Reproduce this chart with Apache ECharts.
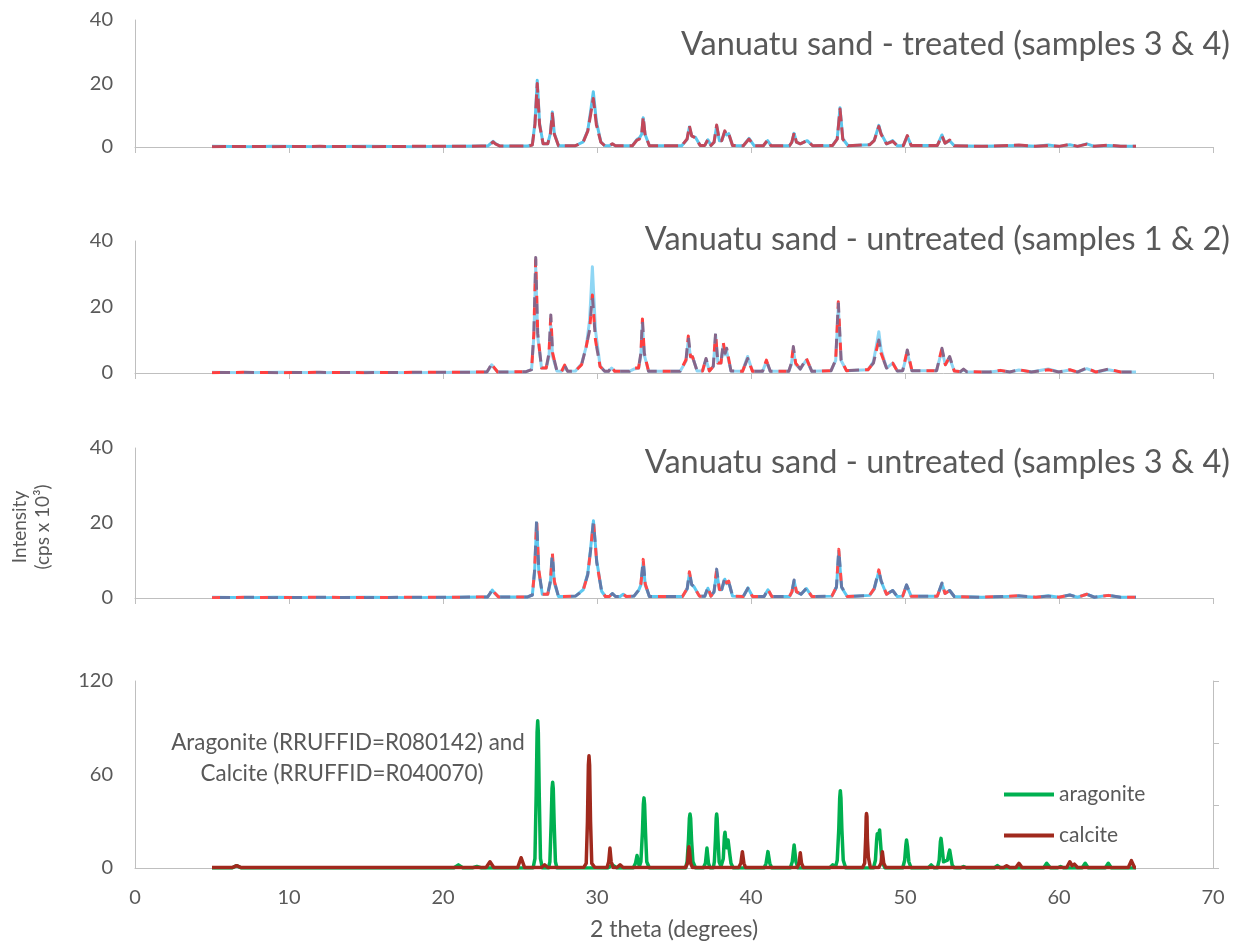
<!DOCTYPE html>
<html>
<head>
<meta charset="utf-8">
<script src="https://cdn.jsdelivr.net/npm/echarts@6/dist/echarts.min.js"></script>
<style>
  html, body { margin: 0; padding: 0; background: #fff; }
  #chart { width: 1252px; height: 945px; }
</style>
</head>
<body>
<div id="chart"></div>
<script>
// Panel headings, top to bottom
const panelTitles = [
  'Vanuatu sand - treated (samples 3 & 4)',
  'Vanuatu sand - untreated (samples 1 & 2)',
  'Vanuatu sand - untreated (samples 3 & 4)'
];
const referenceNote = ['Aragonite (RRUFFID=R080142) and', 'Calcite (RRUFFID=R040070)'];
const yTicksSample = [0, 20, 40];
const yTicksReference = [0, 60, 120];

// Diffractograms: [2 theta (degrees), intensity (cps x 10^3)]
const treatedS3 = [
  [5.0,0.2],[7.5,0.1],[9.0,0.2],[12.0,0.1],[15.0,0.2],[18.0,0.1],[21.0,0.2],[22.5,0.3],
  [22.9,0.3],[23.1,1.1],[23.25,1.8],[23.4,1.1],[23.7,0.3],
  [25.5,0.3],[25.8,0.7],[25.97,7.5],[26.12,21.0],[26.27,7.5],[26.5,1.0],
  [26.8,1.0],[26.97,4.2],[27.1,11.0],[27.23,4.2],[27.5,0.4],
  [28.6,0.4],[29.1,1.6],[29.4,5.2],[29.58,11],[29.76,17.4],[29.96,8],[30.25,1.6],[30.5,0.4],
  [30.8,0.4],[31.0,0.9],[31.2,0.4],
  [32.3,0.4],[32.6,2.4],[32.75,2.8],[32.9,4],[33.0,9.2],[33.12,4],[33.4,0.4],
  [35.5,0.4],[35.85,2.4],[36.0,6.3],[36.15,3.5],[36.4,3.0],[36.7,0.5],
  [37.0,0.5],[37.2,2.3],[37.4,0.5],
  [37.6,1.5],[37.77,6.5],[37.95,2.0],[38.1,2.0],[38.3,4.8],[38.42,3.8],[38.55,4.2],[38.8,0.5],
  [39.5,0.4],[39.87,2.7],[40.2,0.4],
  [40.8,0.4],[41.08,2.0],[41.3,0.4],
  [42.5,0.4],[42.65,1.5],[42.8,4.3],[42.95,1.5],[43.2,1.0],[43.65,2.0],[44.0,0.4],
  [45.3,0.5],[45.6,2.6],[45.78,12.4],[45.96,2.6],[46.3,0.4],
  [47.7,0.7],[48.0,2.1],[48.2,5.2],[48.3,6.8],[48.45,4.2],[48.8,1.0],[49.2,2.0],[49.5,0.4],
  [49.9,0.5],[50.15,3.4],[50.4,0.5],
  [52.1,0.5],[52.4,3.8],[52.6,1.2],[52.9,2.0],[53.2,0.4],
  [55.0,0.2],[57.4,0.5],[58.5,0.2],[59.3,0.6],[60.0,0.2],[60.7,0.7],[61.2,0.2],[61.8,1.0],[62.3,0.2],[63.2,0.5],[64.0,0.2],[65.0,0.2]
];
const treatedS4 = [
  [5.0,0.1],[7.5,0.2],[9.0,0.1],[12.0,0.2],[15.0,0.1],[18.0,0.2],[21.0,0.2],[22.5,0.3],
  [22.9,0.3],[23.1,1.0],[23.25,1.6],[23.4,1.0],[23.7,0.3],
  [25.5,0.3],[25.8,0.6],[25.97,7],[26.12,20.0],[26.27,7],[26.5,1.0],
  [26.8,1.0],[26.97,4],[27.1,10.5],[27.23,4],[27.5,0.4],
  [28.6,0.4],[29.1,1.5],[29.4,5],[29.58,10],[29.76,15.3],[29.96,7],[30.25,1.5],[30.5,0.4],
  [30.8,0.4],[31.0,1.0],[31.2,0.4],
  [32.3,0.4],[32.6,2.2],[32.75,2.5],[32.9,4],[33.0,9.5],[33.12,4],[33.4,0.4],
  [35.5,0.4],[35.85,2.5],[36.0,6.7],[36.15,3.5],[36.4,2.8],[36.7,0.5],
  [37.0,0.5],[37.2,2.4],[37.4,0.5],
  [37.6,1.5],[37.77,6.9],[37.95,2.0],[38.1,2.0],[38.3,5.1],[38.42,3.8],[38.55,4.2],[38.8,0.5],
  [39.5,0.4],[39.87,2.5],[40.2,0.4],
  [40.8,0.4],[41.08,2.2],[41.3,0.4],
  [42.5,0.4],[42.65,1.5],[42.8,4.5],[42.95,1.5],[43.2,1.0],[43.65,2.0],[44.0,0.4],
  [45.3,0.5],[45.6,2.5],[45.78,12.0],[45.96,2.5],[46.3,0.4],
  [47.7,0.7],[48.0,2.0],[48.2,5.0],[48.3,6.5],[48.45,4.0],[48.8,1.0],[49.2,1.8],[49.5,0.4],
  [49.9,0.5],[50.15,3.6],[50.4,0.5],
  [52.1,0.5],[52.4,3.5],[52.6,1.2],[52.9,2.2],[53.2,0.4],
  [55.0,0.2],[57.4,0.6],[58.5,0.2],[59.3,0.5],[60.0,0.2],[60.7,0.8],[61.2,0.2],[61.8,0.9],[62.3,0.2],[63.2,0.6],[64.0,0.2],[65.0,0.2]
];
const untreatedS1 = [
  [5.0,0.2],[7.0,0.1],[9.5,0.2],[12.0,0.1],[15.0,0.2],[18.0,0.1],[21.0,0.2],[22.5,0.3],
  [22.85,0.3],[23.05,1.6],[23.16,2.5],[23.3,1.6],[23.55,0.3],
  [25.4,0.4],[25.75,1.0],[25.9,11],[26.02,32.0],[26.15,11],[26.4,1.5],
  [26.7,1.5],[26.88,5],[27.0,14.5],[27.12,5],[27.4,0.6],
  [27.7,0.5],[27.9,1.5],[28.1,0.5],
  [28.6,0.6],[29.0,2.8],[29.3,8.0],[29.52,16],[29.7,32.2],[29.9,13],[30.2,2.2],[30.5,0.5],
  [30.75,0.5],[30.95,1.5],[31.15,0.5],
  [32.1,0.5],[32.4,1.2],[32.7,1.4],[32.85,5.5],[32.95,15.0],[33.07,5.5],[33.35,0.5],
  [35.4,0.5],[35.78,3.6],[35.93,10.0],[36.07,4.8],[36.2,5.0],[36.5,0.6],
  [36.85,0.6],[37.08,4.0],[37.3,0.6],
  [37.55,2],[37.7,11.5],[37.85,3],[38.05,3],[38.2,8.5],[38.32,5.5],[38.42,6.5],[38.7,0.6],
  [39.45,0.5],[39.78,5.0],[40.1,0.5],
  [40.75,0.5],[41.0,3.5],[41.25,0.5],
  [42.45,0.5],[42.62,2.6],[42.75,7.0],[42.9,2.6],[43.2,1.2],[43.6,4.0],[43.95,0.5],
  [45.2,0.7],[45.5,3.8],[45.67,20.0],[45.85,3.8],[46.2,0.7],
  [47.6,1.0],[47.95,3.5],[48.15,8.5],[48.3,12.5],[48.45,7],[48.8,1.5],[49.2,3.0],[49.5,0.6],
  [49.85,0.7],[50.15,6.0],[50.45,0.7],
  [52.05,0.7],[52.4,7.0],[52.62,2.5],[52.9,4.5],[53.2,0.6],
  [53.6,0.4],[53.8,1.0],[54.0,0.4],
  [55.5,0.3],[56.2,0.7],[56.8,0.3],[57.4,0.9],[58.2,0.3],[59.3,1.2],[60.0,0.3],[60.7,0.9],[61.2,0.3],[61.8,1.3],[62.4,0.3],[63.2,1.0],[64.0,0.3],[65.0,0.3]
];
const untreatedS2 = [
  [5.0,0.1],[7.0,0.2],[9.5,0.1],[12.0,0.2],[15.0,0.1],[18.0,0.2],[21.0,0.2],[22.5,0.3],
  [22.85,0.3],[23.05,1.8],[23.16,2.9],[23.3,1.8],[23.55,0.3],
  [25.4,0.4],[25.75,1.0],[25.9,12],[26.02,35.0],[26.15,12],[26.4,1.5],
  [26.7,1.5],[26.88,6],[27.0,17.6],[27.12,6],[27.4,0.6],
  [27.7,0.5],[27.9,2.4],[28.1,0.5],
  [28.6,0.6],[29.0,2.5],[29.3,8.0],[29.52,13],[29.7,23.6],[29.9,10],[30.2,2.0],[30.5,0.5],
  [30.75,0.5],[30.95,1.9],[31.15,0.5],
  [32.1,0.5],[32.4,1.5],[32.7,1.5],[32.85,6],[32.95,16.4],[33.07,6],[33.35,0.5],
  [35.4,0.5],[35.78,4],[35.93,11.2],[36.07,5],[36.2,4.9],[36.5,0.6],
  [36.85,0.6],[37.08,4.4],[37.3,0.6],
  [37.55,2],[37.7,12.0],[37.85,3],[38.05,3],[38.2,9.2],[38.32,6],[38.42,7.5],[38.7,0.6],
  [39.45,0.5],[39.78,4.4],[40.1,0.5],
  [40.75,0.5],[41.0,3.9],[41.25,0.5],
  [42.45,0.5],[42.62,3],[42.75,8.0],[42.9,3],[43.2,1.2],[43.6,4.4],[43.95,0.5],
  [45.2,0.7],[45.5,4],[45.67,21.6],[45.85,4],[46.2,0.7],
  [47.6,1.0],[47.95,3],[48.15,7],[48.3,10.0],[48.45,6],[48.8,1.5],[49.2,3.0],[49.5,0.6],
  [49.85,0.7],[50.15,7.0],[50.45,0.7],
  [52.05,0.7],[52.4,7.5],[52.62,2.5],[52.9,5.0],[53.2,0.6],
  [53.6,0.4],[53.8,1.2],[54.0,0.4],
  [55.5,0.3],[56.2,0.8],[56.8,0.3],[57.4,1.0],[58.2,0.3],[59.3,1.0],[60.0,0.3],[60.7,1.0],[61.2,0.3],[61.8,1.5],[62.4,0.3],[63.2,1.2],[64.0,0.3],[65.0,0.3]
];
const untreatedS3 = [
  [5.0,0.2],[7.5,0.1],[9.0,0.2],[12.0,0.1],[15.0,0.2],[18.0,0.1],[21.0,0.2],[22.5,0.3],
  [22.9,0.3],[23.08,1.3],[23.2,2.1],[23.35,1.3],[23.6,0.3],
  [25.5,0.3],[25.8,0.8],[25.95,7],[26.08,20.0],[26.22,7],[26.45,1.0],
  [26.8,1.0],[26.97,4],[27.1,11.0],[27.23,4],[27.5,0.4],
  [28.6,0.5],[29.1,2.2],[29.4,6.5],[29.58,13],[29.77,20.6],[29.98,10],[30.3,1.8],[30.55,0.4],
  [30.8,0.4],[31.0,1.2],[31.2,0.4],
  [31.5,0.4],[31.7,1.0],[31.9,0.4],
  [32.4,0.5],[32.7,2.0],[32.85,3.5],[33.0,9.5],[33.13,3.5],[33.4,0.4],
  [35.55,0.4],[35.86,2.4],[36.0,6.5],[36.15,3.5],[36.3,3.0],[36.65,0.5],
  [37.0,0.5],[37.2,2.6],[37.4,0.5],
  [37.6,1.6],[37.77,7.0],[37.95,2.2],[38.1,2.2],[38.3,5.0],[38.42,3.8],[38.55,4.3],[38.8,0.5],
  [39.5,0.4],[39.8,2.7],[40.1,0.4],
  [40.85,0.4],[41.1,2.2],[41.35,0.4],
  [42.5,0.4],[42.66,1.6],[42.8,4.6],[42.95,1.6],[43.25,1.0],[43.6,2.5],[43.95,0.4],
  [45.25,0.5],[45.55,2.8],[45.7,12.5],[45.88,2.8],[46.25,0.4],
  [47.7,0.7],[48.0,2.4],[48.2,5.5],[48.3,7.0],[48.45,4.4],[48.8,1.0],[49.2,2.0],[49.5,0.4],
  [49.85,0.5],[50.1,3.4],[50.4,0.5],
  [52.1,0.5],[52.4,3.8],[52.6,1.2],[52.9,2.0],[53.2,0.4],
  [55.0,0.2],[57.4,0.5],[58.5,0.2],[59.3,0.6],[60.0,0.2],[60.7,0.8],[61.2,0.2],[61.8,1.0],[62.3,0.2],[63.2,0.7],[64.0,0.2],[65.0,0.2]
];
const untreatedS4 = [
  [5.0,0.1],[7.5,0.2],[9.0,0.1],[12.0,0.2],[15.0,0.1],[18.0,0.2],[21.0,0.2],[22.5,0.3],
  [22.9,0.3],[23.08,1.4],[23.2,2.3],[23.35,1.4],[23.6,0.3],
  [25.5,0.3],[25.8,0.8],[25.95,7.5],[26.08,21.0],[26.22,7.5],[26.45,1.0],
  [26.8,1.0],[26.97,4.5],[27.1,12.1],[27.23,4.5],[27.5,0.4],
  [28.6,0.5],[29.1,2.0],[29.4,6.2],[29.58,12.5],[29.77,20.6],[29.98,9.5],[30.3,1.8],[30.55,0.4],
  [30.8,0.4],[31.0,1.2],[31.2,0.4],
  [31.5,0.4],[31.7,1.0],[31.9,0.4],
  [32.4,0.5],[32.7,2.1],[32.85,3.8],[33.0,10.3],[33.13,3.8],[33.4,0.4],
  [35.55,0.4],[35.86,2.6],[36.0,7.0],[36.15,3.6],[36.3,3.0],[36.65,0.5],
  [37.0,0.5],[37.2,2.8],[37.4,0.5],
  [37.6,1.7],[37.77,7.7],[37.95,2.3],[38.1,2.3],[38.3,5.5],[38.42,4.0],[38.55,4.5],[38.8,0.5],
  [39.5,0.4],[39.8,2.6],[40.1,0.4],
  [40.85,0.4],[41.1,2.3],[41.35,0.4],
  [42.5,0.4],[42.66,1.7],[42.8,4.8],[42.95,1.7],[43.25,1.0],[43.6,2.6],[43.95,0.4],
  [45.25,0.5],[45.55,3.0],[45.7,13.0],[45.88,3.0],[46.25,0.4],
  [47.7,0.7],[48.0,2.5],[48.2,5.8],[48.3,7.5],[48.45,4.6],[48.8,1.0],[49.2,2.0],[49.5,0.4],
  [49.85,0.5],[50.1,3.5],[50.4,0.5],
  [52.1,0.5],[52.4,4.0],[52.6,1.2],[52.9,2.0],[53.2,0.4],
  [55.0,0.2],[57.4,0.6],[58.5,0.2],[59.3,0.5],[60.0,0.2],[60.7,0.8],[61.2,0.2],[61.8,1.0],[62.3,0.2],[63.2,0.7],[64.0,0.2],[65.0,0.2]
];

// RRUFF reference patterns
const aragonite = [
  [5.0,0],[6.3,0],[6.6,1.5],[6.9,0],
  [20.7,0],[21.0,2],[21.3,0],
  [21.9,0],[22.2,1],[22.5,0],
  [25.85,0],[25.97,6],[26.05,47],[26.11,87],[26.15,94.5],[26.19,87],[26.25,47],[26.33,6],[26.45,0],
  [26.85,0],[26.94,4],[27.02,28],[27.08,51],[27.12,55],[27.16,51],[27.22,28],[27.3,4],[27.4,0],
  [30.7,0],[31.0,2],[31.3,0],
  [32.35,0],[32.5,3],[32.6,8],[32.7,3],[32.75,1],[32.85,4],[32.95,23],[33.01,41],[33.05,45],[33.09,41],[33.15,23],[33.23,4],[33.4,0],
  [35.75,0],[35.85,4],[35.94,18],[36.0,32],[36.04,34.7],[36.08,32],[36.14,18],[36.23,4],[36.4,0],
  [36.9,0],[37.04,3],[37.14,12.8],[37.24,3],[37.35,0],
  [37.55,0],[37.62,4],[37.69,18],[37.74,32],[37.77,34.7],[37.8,32],[37.86,18],[37.93,4],[38.05,1],
  [38.2,6],[38.27,20],[38.31,23],[38.37,17],[38.43,13],[38.51,18],[38.55,19],[38.62,9],[38.7,3],[38.85,0],
  [40.85,0],[40.98,3],[41.1,10.5],[41.22,3],[41.35,0],
  [42.55,0],[42.68,4],[42.8,14.8],[42.92,4],[43.05,0],
  [45.1,0],[45.3,2],[45.5,1],[45.6,5],[45.7,25],[45.76,45],[45.8,49.6],[45.84,45],[45.9,25],[45.99,5],[46.15,0],
  [47.95,0],[48.08,5],[48.16,18],[48.2,22],[48.27,19],[48.35,24.4],[48.42,15],[48.5,4],[48.7,0],
  [49.85,0],[49.98,5],[50.06,15],[50.1,18],[50.16,14],[50.25,4],[50.4,0],
  [51.5,0],[51.7,2],[51.9,0],
  [52.1,0],[52.22,5],[52.3,17],[52.34,19],[52.4,14],[52.5,4],[52.62,3],[52.76,5],[52.86,10],[52.9,11.5],[52.96,8],[53.06,2],[53.2,0],
  [53.6,0],[53.8,1],[54.0,0],
  [55.8,0],[56.0,1.5],[56.2,0],
  [59.0,0],[59.2,3],[59.45,0],
  [59.9,0],[60.1,1],[60.3,0],
  [61.5,0],[61.7,3],[61.9,0],
  [63.0,0],[63.2,3],[63.4,0],
  [65.0,0]
];
const calcite = [
  [5.0,0.3],[6.3,0.3],[6.6,1.5],[6.9,0.3],
  [10.0,0.3],[15.0,0.3],[20.0,0.3],
  [22.8,0.3],[23.05,4],[23.3,0.3],
  [24.85,0.3],[25.07,6.6],[25.3,0.3],
  [26.4,0.3],[26.6,2],[26.8,0.3],
  [29.15,0.5],[29.3,3],[29.38,30],[29.44,66],[29.48,72],[29.52,66],[29.58,30],[29.66,3],[29.85,0.5],
  [30.65,0.3],[30.76,4],[30.84,12.8],[30.92,4],[31.05,0.3],
  [31.3,0.3],[31.5,2],[31.7,0.3],
  [35.75,0.3],[35.88,3],[35.94,11],[35.97,13.7],[36.01,11],[36.08,3],[36.2,0.3],
  [39.2,0.3],[39.34,3],[39.44,10.5],[39.54,3],[39.65,0.3],
  [43.0,0.3],[43.12,3],[43.2,9.8],[43.28,3],[43.4,0.3],
  [47.25,0.3],[47.38,3],[47.45,20],[47.48,33],[47.5,35],[47.53,33],[47.56,18],[47.62,7],[47.75,0.3],
  [48.3,0.3],[48.44,3],[48.53,10.5],[48.62,3],[48.75,0.3],
  [56.4,0.3],[56.6,1.5],[56.8,0.3],
  [57.2,0.3],[57.4,3],[57.6,0.3],
  [60.5,0.3],[60.7,4],[60.85,1.5],[61.0,2.5],[61.2,0.3],
  [64.5,0.3],[64.7,4.7],[64.9,0.3],[65.0,0.3]
];

const TEXT = '#595959';
const AXIS = '#BFBFBF';
const FONT = 'Lato, "Open Sans", sans-serif';

const grids = [
  { left: 135, right: 39, top: 20,  height: 127 },
  { left: 135, right: 39, top: 241, height: 132 },
  { left: 135, right: 39, top: 448, height: 150 },
  { left: 135, right: 39, top: 681, height: 187 }
].map(g => Object.assign({ outerBoundsMode: 'none', containLabel: false }, g));

const xAxes = [0, 1, 2, 3].map(i => ({
  type: 'value', gridIndex: i, min: 0, max: 70, interval: 10,
  axisLine: { show: true, onZero: false, lineStyle: { color: AXIS, width: 1 } },
  axisTick: { show: i < 3, length: 6, lineStyle: { color: AXIS } },
  axisLabel: { show: i === 3, color: TEXT, fontSize: 20, fontFamily: FONT, margin: 20 },
  splitLine: { show: false },
  name: i === 3 ? '2 theta (degrees)' : '',
  nameLocation: 'middle', nameGap: 50,
  nameTextStyle: { color: TEXT, fontSize: 23, fontFamily: FONT }
}));

const sampleY = i => ({
  type: 'value', gridIndex: i, min: yTicksSample[0], max: yTicksSample[2], interval: yTicksSample[1] - yTicksSample[0],
  axisLine: { show: true, lineStyle: { color: AXIS } },
  axisTick: { show: false },
  axisLabel: { color: TEXT, fontSize: 20, fontFamily: FONT, margin: 22 },
  splitLine: { show: false }
});
const yAxes = [
  sampleY(0), sampleY(1), sampleY(2),
  {
    type: 'value', gridIndex: 3, min: yTicksReference[0], max: yTicksReference[2], interval: yTicksReference[1],
    axisLine: { show: true, lineStyle: { color: AXIS } },
    axisTick: { show: false },
    axisLabel: { color: TEXT, fontSize: 20, fontFamily: FONT, margin: 22 },
    splitLine: { show: false }
  },
  {
    type: 'value', gridIndex: 3, position: 'right', min: 0, max: 120, interval: 40,
    axisLine: { show: true, lineStyle: { color: AXIS } },
    axisTick: { show: true, length: 6, lineStyle: { color: AXIS } },
    axisLabel: { show: false },
    splitLine: { show: false }
  }
];

function trace(name, data, axis, color, width, dash, offset, z) {
  return {
    type: 'line', name, data, xAxisIndex: axis, yAxisIndex: axis,
    showSymbol: false, symbol: 'none', silent: true, z: z,
    lineStyle: { color, width, type: dash || 'solid', dashOffset: offset || 0, cap: 'butt', join: 'round' },
    itemStyle: { color }
  };
}

const series = [
  // treated 3 & 4
  trace('treated sample 3', treatedS3, 0, '#5CC6EC', 3, null, 0, 2),
  trace('treated sample 4', treatedS4, 0, '#C2485A', 3, [14, 6], 0, 3),
  // untreated 1 & 2
  trace('untreated sample 1', untreatedS1, 1, '#8FD6F4', 3, null, 0, 2),
  trace('untreated sample 2', untreatedS2, 1, '#FF3F3F', 3, [8, 16], 0, 3),
  trace('untreated sample 2 ', untreatedS2, 1, '#86668A', 3, [10, 14], 16, 4),
  // untreated 3 & 4
  trace('untreated sample 3', untreatedS3, 2, '#5CC8F0', 3, null, 0, 2),
  trace('untreated sample 4', untreatedS4, 2, '#FF4B4B', 3, [8, 16], 0, 3),
  trace('untreated sample 4 ', untreatedS4, 2, '#6479A8', 3, [10, 14], 16, 4),
  // references
  trace('aragonite', aragonite, 3, '#00B050', 3.5, null, 0, 2),
  trace('calcite', calcite, 3, '#A0291D', 3.5, null, 0, 3)
];

const titleCentres = [45, 240, 463];
const graphic = panelTitles.map((t, i) => ({
  type: 'text', x: 1230, y: titleCentres[i], silent: true,
  style: { text: t, fill: TEXT, fontSize: 32.5, fontFamily: FONT, align: 'right', verticalAlign: 'middle' }
}));
graphic.push(
  { type: 'text', x: 348, y: 743, silent: true,
    style: { text: referenceNote[0], fill: TEXT, fontSize: 22.4, fontFamily: FONT, align: 'center', verticalAlign: 'middle' } },
  { type: 'text', x: 342, y: 774, silent: true,
    style: { text: referenceNote[1], fill: TEXT, fontSize: 22.4, fontFamily: FONT, align: 'center', verticalAlign: 'middle' } },
  { type: 'text', x: 20, y: 527, rotation: Math.PI / 2, silent: true,
    style: { text: 'Intensity', fill: TEXT, fontSize: 19, fontFamily: FONT, align: 'center', verticalAlign: 'middle' } },
  { type: 'text', x: 43, y: 527, rotation: Math.PI / 2, silent: true,
    style: { text: '(cps x 10³)', fill: TEXT, fontSize: 19, fontFamily: FONT, align: 'center', verticalAlign: 'middle' } }
);

const chart = echarts.init(document.getElementById('chart'), null, { renderer: 'canvas' });
chart.setOption({
  animation: false,
  backgroundColor: '#ffffff',
  textStyle: { fontFamily: FONT },
  grid: grids,
  xAxis: xAxes,
  yAxis: yAxes,
  legend: {
    data: ['aragonite', 'calcite'],
    orient: 'vertical', left: 1004, top: 784, padding: 0,
    itemWidth: 50, itemHeight: 4, itemGap: 20, icon: 'rect',
    textStyle: { color: TEXT, fontSize: 21, fontFamily: FONT },
    selectedMode: false
  },
  graphic: graphic,
  series: series
});
</script>
</body>
</html>
